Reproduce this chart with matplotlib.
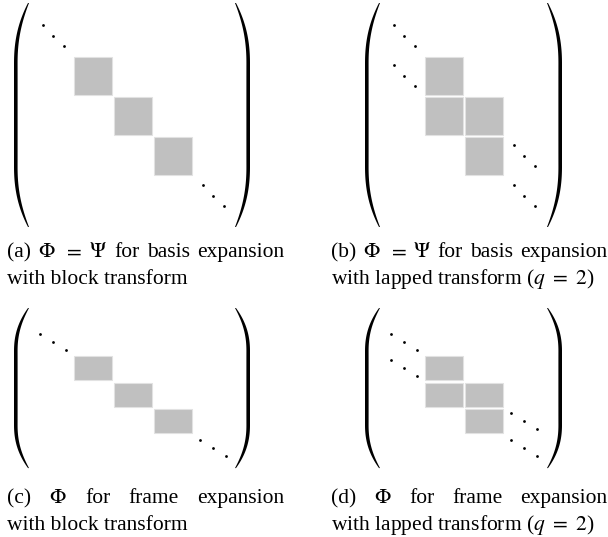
import numpy as np
import matplotlib.pyplot as plt
from matplotlib.patches import Rectangle

plt.rcParams['font.family'] = ['Liberation Serif', 'DejaVu Serif']
plt.rcParams['mathtext.fontset'] = 'stix'

W, H = 608, 537
FS = 15.5

# nonzero blocks (row, col) of each matrix
block_cells = [(0, 0), (1, 1), (2, 2)]
lapped_cells = [(0, 0), (1, 0), (1, 1), (2, 1)]
# cells holding a diagonal "\ddots"
block_dots = [(-1, -1), (3, 3)]
lapped_dots = [(-1, -1), (0, -1), (2, 2), (3, 2)]

captions = {
    'a': (["(a)", r"$\Phi$", "$=$", r"$\Psi$", "for", "basis", "expansion"],
          "with block transform"),
    'b': (["(b)", r"$\Phi$", "$=$", r"$\Psi$", "for", "basis", "expansion"],
          r"with lapped transform ($q\ =\ 2$)"),
    'c': (["(c)", r"$\Phi$", "for", "frame", "expansion"],
          "with block transform"),
    'd': (["(d)", r"$\Phi$", "for", "frame", "expansion"],
          r"with lapped transform ($q\ =\ 2$)"),
}

fig = plt.figure(figsize=(W / 100, H / 100), dpi=100)


def panel(box, origin, row_step, cells, dots, right_col, paren_y, dot_dx, dot_dy):
    left, top, right, bottom = box
    x0, y0 = origin
    col_step = 40.0
    ax = fig.add_axes([left / W, 1 - bottom / H, (right - left) / W, (bottom - top) / H])
    ax.set_xlim((left - x0) / col_step, (right - x0) / col_step)
    ax.set_ylim((bottom - y0) / row_step, (top - y0) / row_step)
    ax.axis('off')

    bw = 1 - 2.0 / col_step
    bh = 1 - 2.5 / row_step
    for r, c in cells:
        ax.add_patch(Rectangle((c, r), bw, bh, facecolor='#c0c0c0',
                               edgecolor='#e2e2e2', lw=0.8))

    for r, c in dots:
        cx, cy = c + bw / 2, r + bh / 2
        ox = np.array([-1, 0, 1]) * dot_dx / col_step
        oy = np.array([-1, 0, 1]) * dot_dy / row_step
        ax.plot(cx + ox, cy + oy, 'o', color='black', ms=2.0, mec='none')

    # big matrix parentheses
    s = np.linspace(-1, 1, 300)
    y_top, y_bot = paren_y
    y = (y_top + y_bot) / 2 + s * (y_bot - y_top) / 2
    u = np.clip((np.abs(s) - 0.45) / 0.55, 0, 1)
    bow = 14 * u ** 2.3
    thick = 1.0 + 2.6 * (1 - np.abs(s) ** 6)
    for edge, sign in [(-1.5, 1), (right_col, -1)]:
        xo = edge + sign * bow / col_step
        xi = edge + sign * (bow + thick) / col_step
        ax.fill(np.r_[xo, xi[::-1]], np.r_[y, y[::-1]], color='black', lw=0)
    return ax


panel((0, 0, 300, 235), (74, 57), 40.0, block_cells, block_dots, 4.4,
      (-1.35, 4.25), 10.5, 10.5)
panel((300, 0, 608, 235), (425, 57), 40.0, lapped_cells, lapped_dots, 3.425,
      (-1.35, 4.25), 10.5, 10.5)
panel((0, 300, 300, 475), (74, 356), 26.5, block_cells, block_dots, 4.4,
      (-1.81, 4.23), 13.3, 8.0)
panel((300, 300, 608, 475), (425, 356), 26.5, lapped_cells, lapped_dots, 3.425,
      (-1.81, 4.23), 13.3, 8.0)

renderer = fig.canvas.get_renderer()


def justified(words, x0, x1, y):
    texts = [fig.text(0, 0, w, fontsize=FS, va='baseline') for w in words]
    widths = [t.get_window_extent(renderer).width for t in texts]
    gap = (x1 - x0 - sum(widths)) / (len(words) - 1)
    x = x0
    for t, w in zip(texts, widths):
        t.set_position((x / W, 1 - y / H))
        x += w + gap


for key, (xl, xr, y1) in {'a': (7, 284, 257), 'b': (331, 607, 257),
                          'c': (7, 284, 503), 'd': (331, 607, 503)}.items():
    first, second = captions[key]
    justified(first, xl, xr, y1)
    fig.text(xl / W, 1 - (y1 + 27) / H, second, fontsize=FS, va='baseline')

fig.savefig('out.png', dpi=100)
